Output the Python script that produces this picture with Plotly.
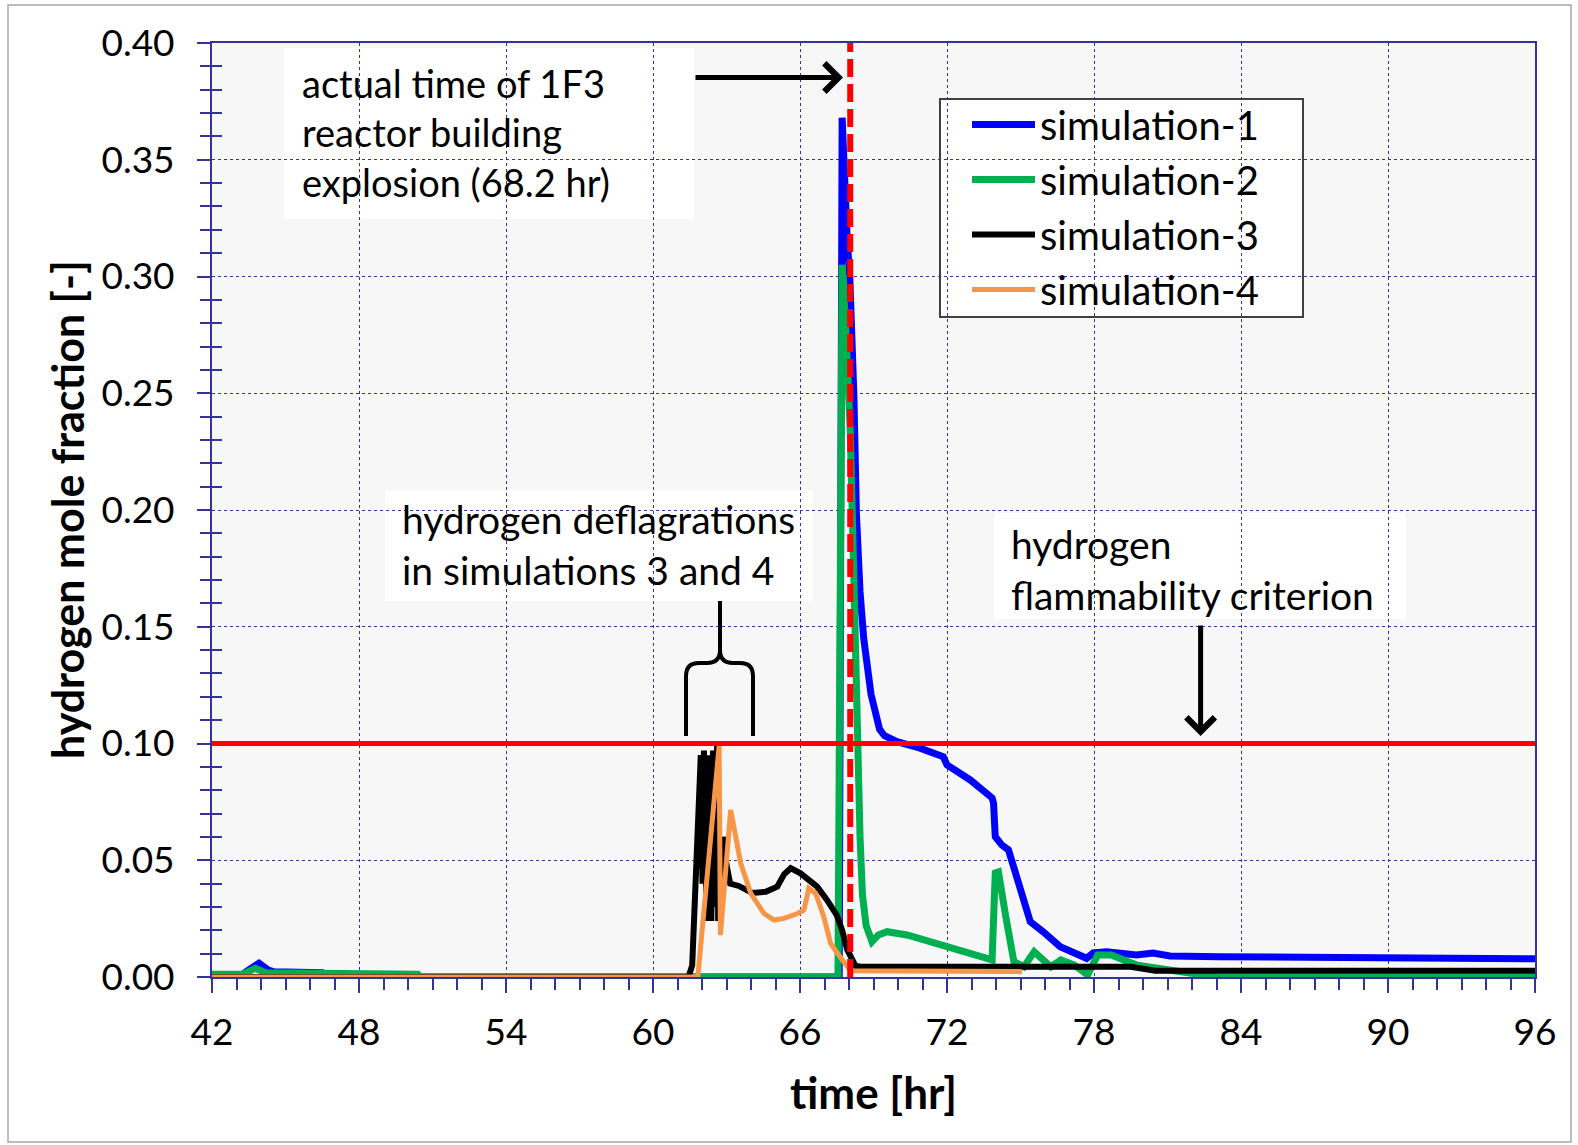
import plotly.graph_objects as go

# ---------------- data ----------------
time_sim1 = [42, 43.1, 43.5, 43.92, 44.3, 44.5, 46.47, 46.55, 67.6, 67.72, 67.93, 68.03, 68.2, 68.3,
             68.45, 68.6, 68.9, 69.05, 69.25, 69.45, 69.96, 70.9, 71.85, 72.0, 72.95, 73.84, 73.9,
             73.97, 74.24, 74.51, 74.99, 75.4, 75.92, 76.62, 77.7, 77.97, 78.52, 79.73, 80.41, 81.1,
             83.1, 88.6, 88.7, 96]
h2_sim1 = [0, 0, 0.003, 0.0059, 0.003, 0.0023, 0.0018, 0, 0, 0.368, 0.315, 0.30, 0.249, 0.199,
           0.165, 0.145, 0.121, 0.113, 0.106, 0.1033, 0.1008, 0.098, 0.0943, 0.0908, 0.0844, 0.0767, 0.0745,
           0.0601, 0.0565, 0.0544, 0.0373, 0.0237, 0.0194, 0.013, 0.008, 0.0103, 0.0108, 0.0094, 0.0103, 0.009,
           0.0087, 0.0084, 0.0078, 0.0078]

time_sim2 = [42, 43.3, 43.76, 44.2, 50.4, 50.5, 67.55, 67.65, 67.72, 67.9, 68.05, 68.2, 68.3, 68.37,
             68.45, 68.55, 68.7, 68.94, 69.2, 69.55, 70.37, 72.0, 73.84, 73.97, 74.1, 74.4, 74.73,
             75.14, 75.56, 76.24, 76.65, 77.2, 77.74, 78.15, 78.7, 79.77, 81.8, 83.0, 96]
h2_sim2 = [0.0012, 0.0013, 0.0037, 0.0018, 0.0012, 0, 0, 0.15, 0.305, 0.27, 0.234, 0.17, 0.12, 0.095,
           0.06, 0.035, 0.022, 0.0151, 0.018, 0.0194, 0.018, 0.013, 0.0073, 0.0445, 0.045, 0.0258, 0.0066,
           0.0044, 0.0108, 0.0044, 0.0073, 0.0051, 0.0009, 0.0094, 0.0094, 0.005, 0.0023, 0.0, 0.0]

time_sim3 = [42, 61.45, 61.6, 61.85, 61.95, 62.02, 62.08, 62.12, 62.2, 62.25, 62.32, 62.38, 62.45,
             62.5, 62.56, 62.62, 62.66, 62.7, 62.85, 63.0, 63.15, 63.5, 64.05, 64.6, 65.07, 65.35, 65.62,
             66.02, 66.7, 67.1, 67.5, 67.72, 67.93, 68.27, 68.5, 79.5, 80.5, 96]
h2_sim3 = [0, 0, 0.005, 0.06, 0.095, 0.04, 0.097, 0.06, 0.024, 0.05, 0.095, 0.024, 0.097,
           0.03, 0.1, 0.1, 0.024, 0.03, 0.06, 0.048, 0.04, 0.039, 0.036, 0.0365, 0.0387, 0.044, 0.0466,
           0.0444, 0.0387, 0.033, 0.0265, 0.02, 0.0116, 0.0047, 0.0044, 0.0044, 0.0027, 0.0027]

time_sim4 = [42, 61.83, 62.7, 62.75, 63.17, 63.58, 63.99, 64.53, 64.94, 65.35, 65.9, 66.16, 66.36,
             66.64, 66.97, 67.25, 67.58, 67.86, 68.06, 75.06]
h2_sim4 = [0, 0, 0.099, 0.018, 0.0715, 0.0487, 0.0358, 0.0272, 0.0244, 0.0251, 0.0272, 0.0287, 0.038,
           0.0358, 0.0258, 0.0144, 0.0094, 0.0051, 0.0027, 0.0023]

series_names = ["simulation-1", "simulation-2", "simulation-3", "simulation-4"]
series_colors = ["#0000ff", "#00b050", "#000000", "#f79646"]
series_widths = [7, 7, 6, 5]

explosion_time = 68.05          # hr (annotated as 68.2 hr)
flammability_limit = 0.10       # mole fraction
time_span = [42, 96]
h2_span = [0, 0.40]

annotation_texts = [
    "actual time of 1F3<br>reactor building<br>explosion (68.2 hr)",
    "hydrogen deflagrations<br>in simulations 3 and 4",
    "hydrogen<br>flammability criterion",
]

# ---------------- layout helpers (pixel -> paper) ----------------
W, H = 1578, 1145
L, R, T, B = 212, 43, 43, 168
PW, PH = W - L - R, H - T - B


def xp(X):
    return (X - L) / PW


def yp(Y):
    return (H - B - Y) / PH


NAVY = "#333399"
FONT = "Lato"

fig = go.Figure()

all_t = [time_sim1, time_sim2, time_sim3, time_sim4]
all_v = [h2_sim1, h2_sim2, h2_sim3, h2_sim4]
for name, t, v, c, w in zip(series_names, all_t, all_v, series_colors, series_widths):
    fig.add_trace(go.Scatter(x=t, y=v, mode="lines", name=name, legendgroup=name,
                             line=dict(color=c, width=w, shape="linear")))

fig.add_trace(go.Scatter(x=time_span, y=[flammability_limit] * 2, mode="lines",
                         line=dict(color="#ff0000", width=5), showlegend=False,
                         hoverinfo="skip", yaxis="y2"))
fig.add_trace(go.Scatter(x=[explosion_time] * 2, y=h2_span, mode="lines",
                         line=dict(color="#ff0000", width=6, dash="18px,7px"), showlegend=False,
                         hoverinfo="skip", yaxis="y2"))

shapes = []
# figure border
shapes.append(dict(type="rect", xref="paper", yref="paper", x0=xp(8), x1=xp(1571), y0=yp(1142), y1=yp(5),
                   line=dict(color="#a6a6a6", width=1.5), fillcolor="rgba(0,0,0,0)", layer="below"))
# white text boxes
for (x0, y0, x1, y1) in [(284, 48, 694, 219), (385, 490, 813, 601), (994, 513, 1406, 619)]:
    shapes.append(dict(type="rect", xref="paper", yref="paper", x0=xp(x0), x1=xp(x1), y0=yp(y1), y1=yp(y0),
                       line=dict(width=0), fillcolor="white", layer="between"))
# legend box
shapes.append(dict(type="rect", xref="paper", yref="paper", x0=xp(940), x1=xp(1303), y0=yp(317), y1=yp(99),
                   line=dict(color="#404040", width=2), fillcolor="white", layer="between"))


# curly bracket
def P(X, Y):
    return f"{xp(X):.5f},{yp(Y):.5f}"


bracket = (f"M {P(686,736)} L {P(686,676)} Q {P(686,663)} {P(699,663)} L {P(707,663)} "
           f"Q {P(720,663)} {P(720,650)} L {P(720,601)} "
           f"M {P(720,650)} Q {P(720,663)} {P(733,663)} L {P(740,663)} "
           f"Q {P(753,663)} {P(753,676)} L {P(753,736)}")
shapes.append(dict(type="path", xref="paper", yref="paper", path=bracket,
                   line=dict(color="black", width=4), layer="above"))

annotations = []
text_pos = [(300, 133), (400, 544), (1009, 569)]
text_sizes = [38, 39, 39]
for txt, (X, Y), fs in zip(annotation_texts, text_pos, text_sizes):
    annotations.append(dict(xref="paper", yref="paper", x=xp(X), y=yp(Y), text=txt, showarrow=False,
                            xanchor="left", yanchor="middle", align="left",
                            font=dict(family=FONT, size=fs, color="black")))
# arrows
annotations.append(dict(xref="paper", yref="paper", x=xp(843), y=yp(77.5), ax=-149, ay=0, text="",
                        showarrow=True, arrowhead=4, arrowsize=1.1, arrowwidth=5, arrowcolor="black"))
annotations.append(dict(xref="paper", yref="paper", x=xp(1200.6), y=yp(736), ax=0, ay=-112, text="",
                        showarrow=True, arrowhead=4, arrowsize=1.1, arrowwidth=5, arrowcolor="black"))
# axis titles
annotations.append(dict(xref="paper", yref="paper", x=0.5, y=yp(1092), text="<b>time [hr]</b>",
                        showarrow=False, xanchor="center", yanchor="middle",
                        font=dict(family=FONT, size=44, color="black")))
annotations.append(dict(xref="paper", yref="paper", x=xp(67), y=0.5, text="<b>hydrogen mole fraction [-]</b>",
                        showarrow=False, xanchor="center", yanchor="middle", textangle=-90,
                        font=dict(family=FONT, size=43, color="black")))

fig.update_layout(
    width=W, height=H,
    margin=dict(l=L, r=R, t=T, b=B, pad=0),
    paper_bgcolor="white", plot_bgcolor="#f7f7f7",
    font=dict(family=FONT, size=37, color="black"),
    shapes=shapes, annotations=annotations,
    showlegend=True,
    legend=dict(x=xp(967), y=yp(92), xanchor="left", yanchor="top", bgcolor="rgba(0,0,0,0)",
                borderwidth=0, font=dict(family=FONT, size=40, color="black"),
                tracegroupgap=0, itemwidth=63),
    xaxis=dict(range=time_span, tick0=42, dtick=6, showgrid=True, gridcolor=NAVY, griddash="dot",
               gridwidth=1, showline=True, linecolor=NAVY, linewidth=2, mirror=True,
               ticks="outside", ticklen=14, tickwidth=1.5, tickcolor=NAVY,
               tickfont=dict(family=FONT, size=37, color="black"), ticklabelstandoff=8,
               minor=dict(ticks="outside", ticklen=11, dtick=1, tickwidth=1.5, tickcolor=NAVY, showgrid=False),
               zeroline=False),
    yaxis=dict(range=h2_span, tick0=0, dtick=0.05, tickformat=".2f", showgrid=True, gridcolor=NAVY,
               griddash="dot", gridwidth=1, showline=True, linecolor=NAVY, linewidth=2, mirror=True,
               ticks="outside", ticklen=13, tickwidth=1.5, tickcolor=NAVY,
               tickfont=dict(family=FONT, size=37, color="black"), ticklabelstandoff=15,
               minor=dict(ticks="outside", ticklen=10, dtick=0.01, tickwidth=1.5, tickcolor=NAVY, showgrid=False),
               zeroline=False),
    yaxis2=dict(range=h2_span, overlaying="y", side="left", showgrid=False, showline=False,
                ticks="", showticklabels=False, tick0=0, dtick=0.05, zeroline=False,
                minor=dict(ticks="inside", ticklen=10, dtick=0.01, tickwidth=1.5, tickcolor=NAVY, showgrid=False)),
)

fig.write_html("out.html")
